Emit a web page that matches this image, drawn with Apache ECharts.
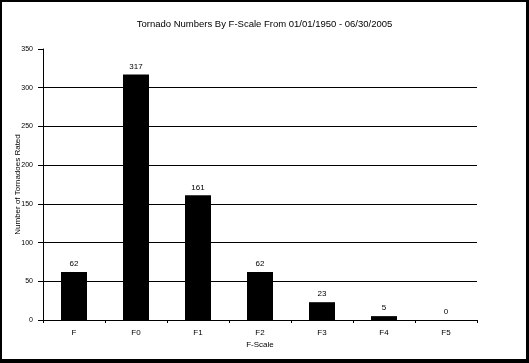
<!DOCTYPE html>
<html>
<head>
<meta charset="utf-8">
<script src="https://cdn.jsdelivr.net/npm/echarts@6/dist/echarts.min.js"></script>
<style>
html,body{margin:0;padding:0;background:#fff;}
#c{width:529px;height:363px;}
</style>
</head>
<body>
<div id="c"></div>
<script>
const categories = ['F', 'F0', 'F1', 'F2', 'F3', 'F4', 'F5'];
const tornadoCounts = [62, 317, 161, 62, 23, 5, 0];
const titleText = 'Tornado Numbers By F-Scale From 01/01/1950 - 06/30/2005';
const yAxisName = 'Number of Tornadoes Rated';
const xAxisName = 'F-Scale';

const font = 'Liberation Sans, Arial, sans-serif';
const chart = echarts.init(document.getElementById('c'), null, {renderer: 'canvas'});
chart.setOption({
  animation: false,
  backgroundColor: '#fff',
  title: {
    text: titleText, left: 'center', top: 14,
    textStyle: {fontFamily: font, fontSize: 9.5, fontWeight: 'normal', color: '#000'}
  },
  grid: {left: 43, right: 52, top: 49, bottom: 43, containLabel: false, outerBoundsMode: 'none'},
  xAxis: {
    type: 'category', data: categories,
    name: xAxisName, nameLocation: 'middle', nameGap: 21, nameMoveOverlap: false,
    nameTextStyle: {fontFamily: font, fontSize: 8, color: '#000'},
    axisLine: {lineStyle: {color: '#000', width: 1}},
    axisTick: {show: true, length: 3, lineStyle: {color: '#000'}},
    axisLabel: {fontFamily: font, fontSize: 8, color: '#000', margin: 9}
  },
  yAxis: {
    type: 'value', min: 0, max: 350, interval: 50,
    name: yAxisName, nameLocation: 'middle', nameGap: 21, nameMoveOverlap: false,
    nameTextStyle: {fontFamily: font, fontSize: 8, color: '#000'},
    axisLine: {show: true, lineStyle: {color: '#000', width: 1}},
    axisTick: {show: true, length: 5, lineStyle: {color: '#000'}},
    axisLabel: {fontFamily: font, fontSize: 7, color: '#000', margin: 10},
    splitLine: {show: true, showMinLine: false, showMaxLine: false, lineStyle: {color: '#000', width: 1}}
  },
  series: [{
    type: 'bar', data: tornadoCounts, barWidth: 26,
    itemStyle: {color: '#000'},
    label: {show: true, position: 'top', distance: 4, fontFamily: font, fontSize: 8, color: '#000'}
  }],
  graphic: [
    {type: 'rect', shape: {x: 0, y: 0, width: 529, height: 2}, style: {fill: '#000'}},
    {type: 'rect', shape: {x: 0, y: 0, width: 2, height: 363}, style: {fill: '#000'}},
    {type: 'rect', shape: {x: 526, y: 0, width: 3, height: 363}, style: {fill: '#000'}},
    {type: 'rect', shape: {x: 0, y: 359, width: 529, height: 4}, style: {fill: '#000'}}
  ]
});
</script>
</body>
</html>
